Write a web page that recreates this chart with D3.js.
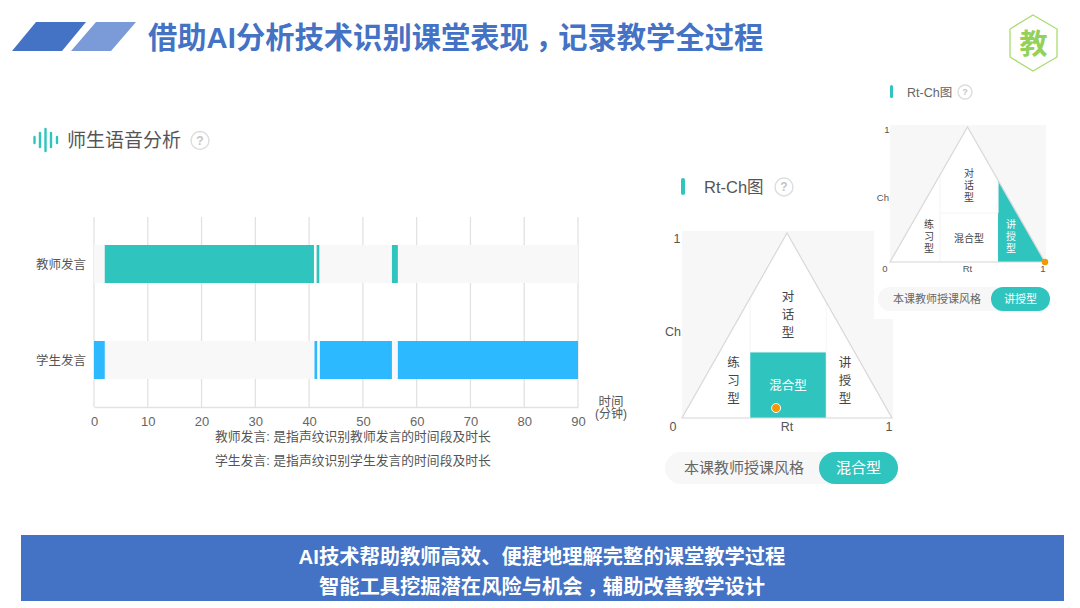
<!DOCTYPE html>
<html><head><meta charset="utf-8">
<script src="https://cdn.jsdelivr.net/npm/d3@7/dist/d3.min.js"></script>
<style>html,body{margin:0;padding:0;background:#fff;overflow:hidden}svg{display:block}
text{font-family:"Liberation Sans","Noto Sans CJK SC",sans-serif}</style></head><body>
<svg id="c" width="1080" height="608"></svg>
<script>
const categories=["教师发言","学生发言"];
const teacherStarts=[2,41.4,55.4];
const teacherEnds=[40.9,41.9,56.5];
const studentStarts=[0,41,42,56.5];
const studentEnds=[2,41.5,55.4,90];
const timeTicks=[0,10,20,30,40,50,60,70,80,90];
const styleNames=["练习型","混合型","讲授型","对话型"];
const bigStyle="混合型", smallStyle="讲授型";
const bigPoint=[0.448,0.054], smallPoint=[1,0];
const titleText="借助AI分析技术识别课堂表现，记录教学全过程";
const notes=["教师发言: 是指声纹识别教师发言的时间段及时长","学生发言: 是指声纹识别学生发言的时间段及时长"];
const bannerLines=["AI技术帮助教师高效、便捷地理解完整的课堂教学过程","智能工具挖掘潜在风险与机会，辅助改善教学设计"];

const svg=d3.select("#c");
const BLUE="#4472c4",TEAL="#30c4bf",SKY="#2db9ff",INK="#555";
const T=(g,x,y,s,size,fill,anchor="start",weight=400)=>g.append("text").attr("x",x).attr("y",y).text(s)
  .attr("font-size",size).attr("fill",fill).attr("text-anchor",anchor).attr("font-weight",weight);
// full-width comma centred in its cell and sitting on the baseline, as in the reference
const commaText=(x,y,s,size,fill,anchor)=>{
  const t=svg.append("text").attr("x",x).attr("y",y).attr("font-size",size).attr("fill",fill)
    .attr("text-anchor",anchor).attr("font-weight",700);
  s.split(/(，)/).forEach((p,i)=>{const sp=t.append("tspan").text(p);
    if(p==="，")sp.style("font-family","'Noto Sans CJK TC'").attr("dy","0.3em");
    else if(i>0)sp.attr("dy","-0.3em");});
};

// header
svg.append("polygon").attr("points","12,51 62,51 86,22 36,22").attr("fill",BLUE);
svg.append("polygon").attr("points","71,51 111,51 136,22 96,22").attr("fill","#7a9ad8");
commaText(148,48,titleText,29.3,BLUE,"start");
svg.append("polygon").attr("points","1033,15 1057,29 1057,57 1033,71 1010,57 1010,29")
  .attr("fill","#fff").attr("stroke","#a9dc6e").attr("stroke-width",1.3);
T(svg,1033.5,54,"教",28,"#93d15a","middle",700);

// section header
[[34.5,3],[40,7],[45.5,11],[51,7],[57,3]].forEach(([x,h])=>svg.append("line").attr("x1",x).attr("x2",x)
  .attr("y1",140-h).attr("y2",140+h).attr("stroke",TEAL).attr("stroke-width",2.4).attr("stroke-linecap","round"));
const help=(x,y,r,size)=>{svg.append("circle").attr("cx",x).attr("cy",y).attr("r",r).attr("fill","#fff").attr("stroke","#ddd").attr("stroke-width",1.4);
  T(svg,x,y+size*0.36,"?",size,"#c4c4c4","middle",700);};
T(svg,67,146.5,"师生语音分析",19,"#555");
help(200,140.5,9,12);

// gantt
const x=d3.scaleLinear().domain([0,90]).range([94,578]);
const y=d3.scaleBand().domain(categories).range([245,379]).paddingInner(58/96);
const g=svg.append("g");
g.selectAll("line.grid").data(timeTicks).join("line").attr("class","grid")
  .attr("x1",d=>x(d)).attr("x2",d=>x(d)).attr("y1",217).attr("y2",407).attr("stroke","#e2e2e2").attr("stroke-width",1.3);
g.selectAll("rect.bg").data(categories).join("rect").attr("class","bg")
  .attr("x",x(0)).attr("width",x(90)-x(0)).attr("y",d=>y(d)).attr("height",y.bandwidth()).attr("fill","#f8f8f8");
const seg=(s,e,c,fill)=>g.selectAll(null).data(s.map((v,i)=>[v,e[i]])).join("rect")
  .attr("x",d=>x(d[0])).attr("width",d=>x(d[1])-x(d[0])).attr("y",y(c)).attr("height",y.bandwidth()).attr("fill",fill);
seg(teacherStarts,teacherEnds,categories[0],TEAL);
seg(studentStarts,studentEnds,categories[1],SKY);
const ax=svg.append("g").attr("transform","translate(0,407)").call(d3.axisBottom(x).tickValues(timeTicks).tickSize(0).tickPadding(10).tickFormat(d3.format("d")));
ax.select(".domain").attr("stroke","#e2e2e2").attr("stroke-width",1.3);
ax.selectAll("text").attr("font-size",13).attr("fill","#666").attr("font-family","'Liberation Sans',sans-serif");
categories.forEach(c=>T(svg,86,y(c)+y.bandwidth()/2+4.5,c,12.5,INK,"end"));
T(svg,611,406,"时间",12.5,INK,"middle");
T(svg,611,418,"(分钟)",12,INK,"middle");
notes.forEach((n,i)=>T(svg,215,441+i*24,n,12.8,"#555"));

// Rt-Ch chart
function rtch(o){
  const gg=svg.append("g");
  const X=d3.scaleLinear().domain([0,1]).range([o.x0,o.x1]);
  const Y=d3.scaleLinear().domain([0,1]).range([o.y0,o.y1]);
  const P=(r,c)=>[X(r),Y(c)];
  const line=d3.line();
  const edge=r=>r<=.5?2*r:2*(1-r);
  const [a,b]=o.cuts, h=o.mixTop;
  const regions={
    "练习型":[[0,0],[a,0],[a,edge(a)]],
    "混合型":[[a,0],[b,0],[b,h],[a,h]],
    "讲授型":[[b,0],[1,0],[b,edge(b)]],
    "对话型":[[a,h],[b,h],[b,edge(b)],[.5,1],[a,edge(a)]]
  };
  gg.append("rect").attr("x",o.x0).attr("y",o.y1-2).attr("width",o.x1-o.x0+1).attr("height",o.y0-o.y1+2).attr("fill","#f7f7f7");
  gg.append("path").attr("d",line([P(0,0),P(1,0),P(.5,1)])+"Z").attr("fill","#fff");
  styleNames.forEach(n=>gg.append("path").attr("d",line(regions[n].map(p=>P(p[0],p[1])))+"Z")
    .attr("fill",n===o.active?TEAL:"#fff").attr("stroke",n===o.active?"none":"#f6f6f6").attr("stroke-width",1));
  gg.append("path").attr("d",line([P(0,0),P(1,0),P(.5,1)])+"Z").attr("fill","none").attr("stroke","#d9d9d9").attr("stroke-width",1.2);
  const vert=(s,px,py,dy,col)=>[...s].forEach((ch,i)=>T(gg,px,py+i*dy,ch,o.fs,col,"middle"));
  vert(styleNames[3],o.dialogX,o.dialogY,o.dy,"#444");
  vert(styleNames[0],o.practiceX,o.sideY,o.dy,o.active===styleNames[0]?"#fff":"#444");
  vert(styleNames[2],o.lectureX,o.sideY,o.dy,o.active===styleNames[2]?"#fff":"#444");
  T(gg,o.dialogX,o.mixY,styleNames[1],o.fs,o.active===styleNames[1]?"#fff":"#444","middle");
  const lf=o.lf, by=o.y0+o.lfDy;
  T(gg,o.oneX,o.y1+o.oneDy,"1",lf,INK,"middle");
  T(gg,o.zeroX,by,"0",lf,INK,"middle");
  T(gg,o.rightX,by,"1",lf,INK,"middle");
  T(gg,X(.5),by,"Rt",lf,INK,"middle");
  T(gg,o.x0-1,o.chY,"Ch",lf,INK,"end");
  gg.append("circle").attr("cx",X(o.pt[0])).attr("cy",Y(o.pt[1])).attr("r",o.r).attr("fill","#f39800").attr("stroke",o.ring?"#fff":"none").attr("stroke-width",1);
  // pill
  gg.append("rect").attr("x",o.pill[0]).attr("y",o.pill[1]).attr("width",o.pill[2]).attr("height",o.pill[3]).attr("rx",o.pill[3]/2).attr("fill","#f7f7f7");
  gg.append("rect").attr("x",o.pill[4]).attr("y",o.pill[1]).attr("width",o.pill[0]+o.pill[2]-o.pill[4]).attr("height",o.pill[3]).attr("rx",o.pill[3]/2).attr("fill",TEAL);
  T(gg,o.pill[5],o.pill[1]+o.pill[3]/2+o.pfs*.36,"本课教师授课风格",o.pfs,"#666");
  T(gg,(o.pill[4]+o.pill[0]+o.pill[2])/2,o.pill[1]+o.pill[3]/2+o.pfs*.36,o.active,o.pfs,"#fff","middle");
}
rtch({x0:682,x1:892,y0:418,y1:233,cuts:[.325,.687],mixTop:.357,active:bigStyle,pt:bigPoint,r:4.5,ring:true,
  fs:12.5,dy:18,dialogX:788,dialogY:301,sideY:367,practiceX:733.5,lectureX:845,mixY:390,
  lf:12.5,lfDy:13,oneX:677,oneDy:10,zeroX:673,rightX:889,chY:336,
  pill:[665,452,233,32,819,684],pfs:15});
// white panel behind the inset
svg.append("rect").attr("x",874).attr("y",80).attr("width",206).attr("height",239).attr("fill","#fff");
rtch({x0:890,x1:1045,y0:262,y1:127,cuts:[.323,.697],mixTop:.363,active:smallStyle,pt:smallPoint,r:3.2,ring:false,
  fs:10,dy:12.2,dialogX:969,dialogY:177,sideY:228,practiceX:929,lectureX:1011,mixY:242,
  lf:9.5,lfDy:9.5,oneX:887,oneDy:6,zeroX:885,rightX:1043,chY:201,
  pill:[878,287,172,24,991,893],pfs:11});
svg.append("rect").attr("x",890).attr("y",85).attr("width",3).attr("height",13).attr("rx",1.5).attr("fill",TEAL);
T(svg,907,97,"Rt-Ch图",12.5,"#666");
help(965,92,7,9);
svg.append("rect").attr("x",681).attr("y",178).attr("width",4).attr("height",17).attr("rx",2).attr("fill",TEAL);
T(svg,704,193,"Rt-Ch图",16.5,"#555");
help(784,187,9,12);

// banner
svg.append("rect").attr("x",21).attr("y",535).attr("width",1043).attr("height",66).attr("fill",BLUE);
bannerLines.forEach((s,i)=>commaText(542,564+i*30,s,20.3,"#fff","middle"));
</script></body></html>
